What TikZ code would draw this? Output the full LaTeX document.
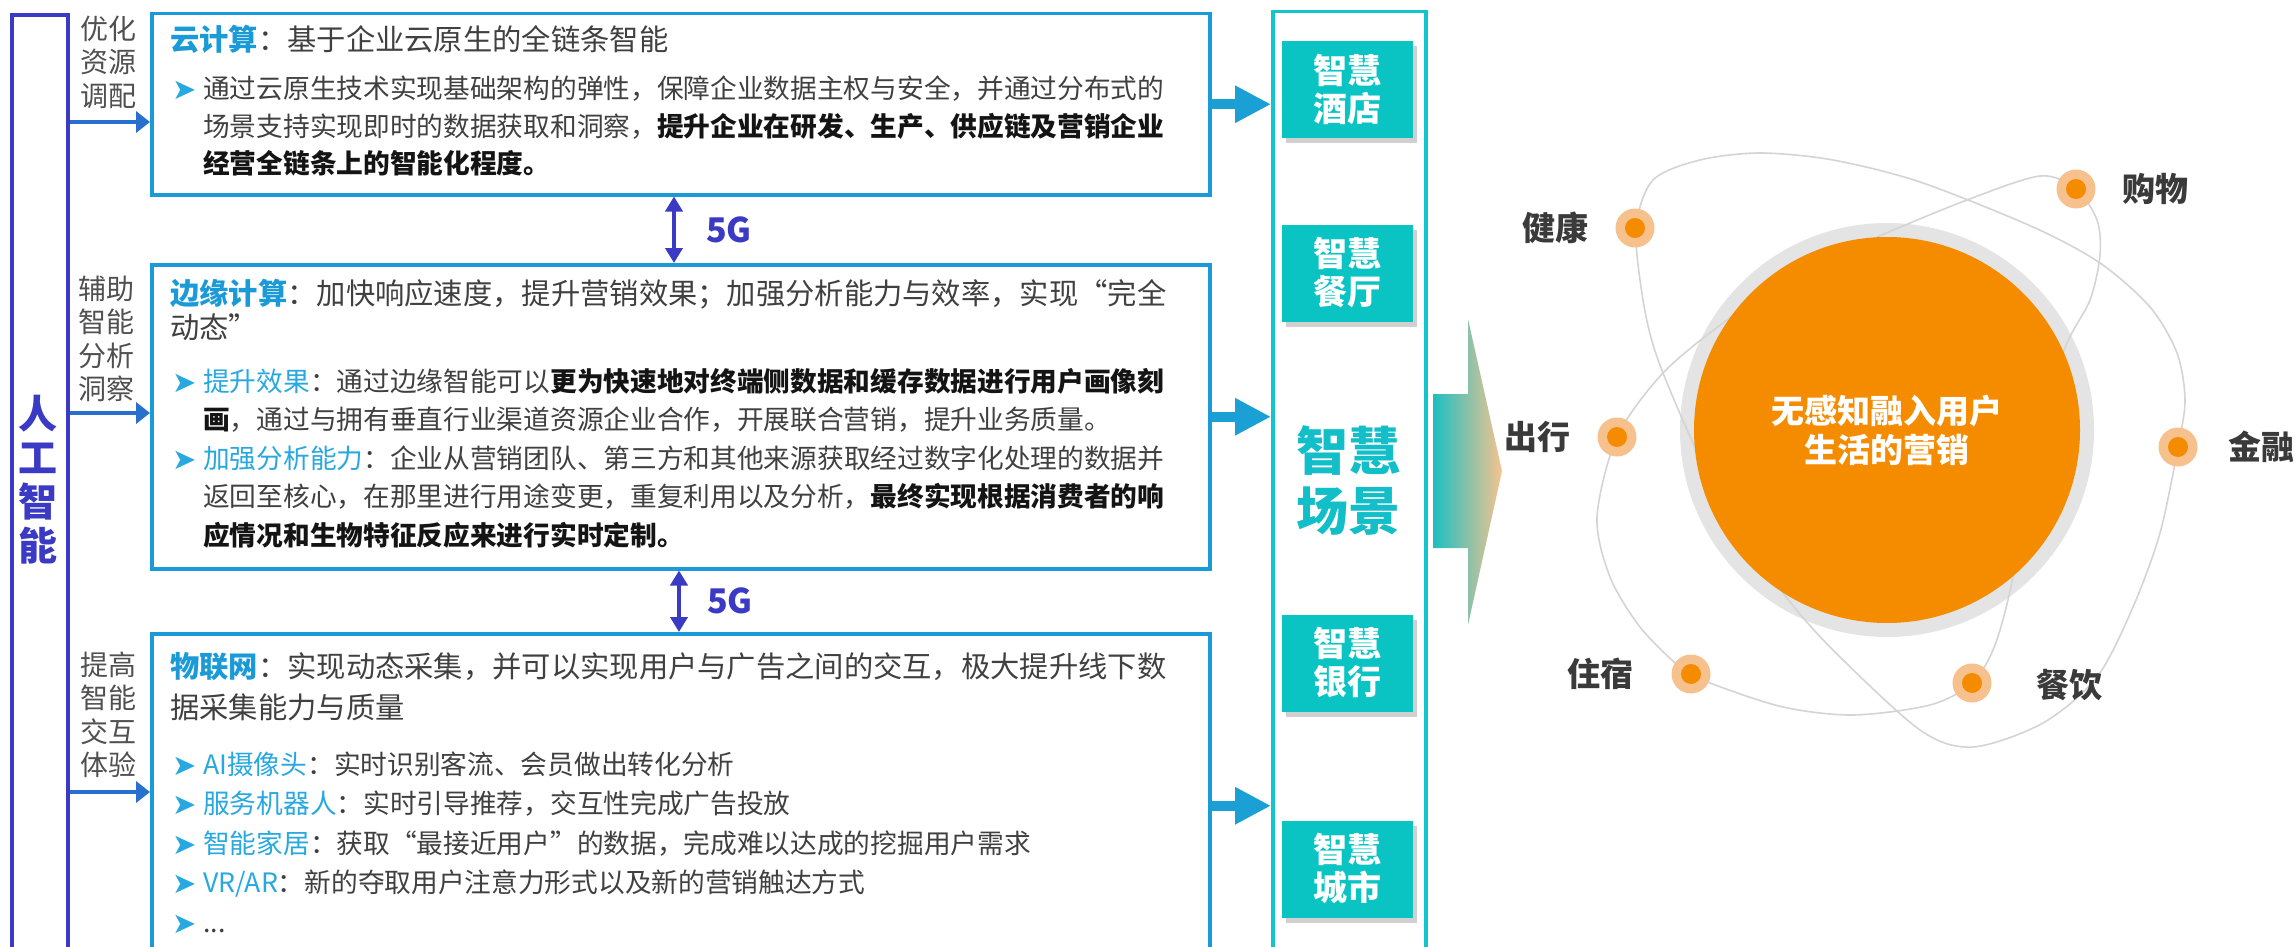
\documentclass[tikz,border=0pt]{standalone}
\usepackage{fontspec}
\setmainfont{Noto Sans CJK SC}
\newfontfamily\symfont{DejaVu Sans}
\usepackage{xcolor}
\usetikzlibrary{arrows.meta,positioning,shadows}

\definecolor{aiblue}{RGB}{58,58,196}
\definecolor{boxblue}{RGB}{26,155,215}
\definecolor{kwblue}{RGB}{26,155,215}
\definecolor{subblue}{RGB}{40,168,224}
\definecolor{bodygray}{RGB}{64,64,64}
\definecolor{boldblack}{RGB}{20,20,20}
\definecolor{sidegray}{RGB}{80,80,80}
\definecolor{scnteal}{RGB}{10,196,196}
\definecolor{frameteal}{RGB}{20,196,204}
\definecolor{titleteal}{RGB}{18,190,200}
\definecolor{scnarrow}{RGB}{27,160,214}
\definecolor{arrteal}{RGB}{29,191,192}
\definecolor{peach}{RGB}{246,195,144}
\definecolor{dotpeach}{RGB}{247,193,142}
\definecolor{coreorange}{RGB}{245,140,0}
\definecolor{ringgray}{RGB}{228,228,228}
\definecolor{orbitgray}{RGB}{212,212,212}
\definecolor{labelgray}{RGB}{58,58,58}
\colorlet{aiarrow}{aiblue!45!boxblue}

\newcommand\kwd[1]{{\bfseries\color{kwblue}#1}}
\newcommand\subt[1]{{\color{subblue}#1}}
\newcommand\hlt[1]{{\bfseries\color{boldblack}#1}}
\newcommand\bitem{\makebox[31pt][l]{\color{subblue}\symfont\fontsize{29}{29}\selectfont\raisebox{-1pt}{➤}}}
\newcommand\cont{\hspace*{31pt}}

\begin{document}
\begin{tikzpicture}[
  x=1pt, y=-1pt,
  aiFrame/.style={draw=aiblue, line width=4pt, minimum width=56pt,
    minimum height=990pt, anchor=north west, inner sep=0pt},
  aiTxt/.style={align=center, inner sep=0pt, text=aiblue,
    font=\fontsize{39}{44}\selectfont\bfseries},
  infoBox/.style={draw=boxblue, line width=3.5pt, anchor=north west,
    inner sep=0pt, minimum width=1058pt},
  sideLab/.style={align=center, inner sep=0pt, text=sidegray,
    font=\fontsize{28}{33.5}\selectfont},
  titleTxt/.style={anchor=base west, inner sep=0pt, text width=1030pt,
    align=left, text=bodygray, font=\fontsize{29.3}{37}\selectfont},
  bodyTxt/.style={anchor=base west, inner sep=0pt, text width=1030pt,
    align=left, text=bodygray, font=\fontsize{26.7}{38.7}\selectfont},
  aiArr/.style={-{Triangle[length=14pt,width=21pt]}, line width=4pt,
    color=aiarrow},
  fgArr/.style={{Triangle[length=15pt,width=17pt]}-{Triangle[length=15pt,width=17pt]},
    line width=4.5pt, color=aiblue},
  fgLab/.style={inner sep=0pt, text=aiblue,
    font=\fontsize{34}{34}\selectfont\bfseries},
  scnFrame/.style={draw=frameteal, line width=3.5pt, minimum width=153pt,
    minimum height=990pt, anchor=north west, inner sep=0pt},
  scnBox/.style={fill=scnteal, minimum width=131pt, minimum height=97pt,
    inner sep=0pt, align=center, text=white,
    font=\fontsize{34}{38}\selectfont\bfseries,
    drop shadow={shadow xshift=4pt, shadow yshift=-5pt, fill=black!60, opacity=0.3}},
  scnTitle/.style={align=center, inner sep=0pt, text=titleteal,
    font=\fontsize{52}{60}\selectfont\bfseries},
  scnArr/.style={-{Triangle[length=36pt,width=35pt]}, line width=10pt,
    color=scnarrow},
  ringC/.style={circle, fill=ringgray, minimum size=414pt, inner sep=0pt},
  coreC/.style={circle, fill=coreorange, minimum size=386pt, inner sep=0pt,
    align=center, text=white, font=\fontsize{33}{39}\selectfont\bfseries},
  orbLine/.style={draw=orbitgray, line width=1.6pt},
  dotC/.style={circle, fill=dotpeach, minimum size=39pt, inner sep=0pt,
    path picture={\fill[coreorange] (path picture bounding box.center) circle (10pt);}},
  orbLab/.style={inner sep=0pt, text=labelgray,
    font=\fontsize{33}{33}\selectfont\bfseries},
]

  %% ── Canvas ──────────────────────────────────────────────────
  \useasboundingbox (0,0) rectangle (2295,947);
  \fill[white] (0,0) rectangle (2295,947);

  %% ── AI column ───────────────────────────────────────────────
  \node[aiFrame] (ai) at (10,13) {};
  \node[aiTxt] (aitxt) at (38,480) {人\\工\\智\\能};

  %% ── Info boxes ──────────────────────────────────────────────
  \node[infoBox, minimum height=181pt] (cloud) at (150,12) {};
  \node[infoBox, minimum height=304pt] (edge) at (150,263) {};
  \node[infoBox, minimum height=344pt] (iot) at (150,632) {};

  %% ── Side labels ─────────────────────────────────────────────
  \node[sideLab] (optlab) at (108,62) {优化\\资源\\调配};
  \node[sideLab] (asslab) at (106,339) {辅助\\智能\\分析\\洞察};
  \node[sideLab] (intlab) at (108,715) {提高\\智能\\交互\\体验};

  %% ── Box texts ───────────────────────────────────────────────
  \node[titleTxt] (cloudT) at (170,51) {\kwd{云计算}：基于企业云原生的全链条智能};
  \node[bodyTxt, font=\fontsize{26.7}{37.5}\selectfont] (cloudA) at (172,99) {%
    \bitem 通过云原生技术实现基础架构的弹性，保障企业数据主权与安全，并通过分布式的\\
    \cont 场景支持实现即时的数据获取和洞察，\hlt{提升企业在研发、生产、供应链及营销企业}\\
    \cont\hlt{经营全链条上的智能化程度。}};

  \node[titleTxt] (edgeT) at (170,304) {%
    \kwd{边缘计算}：加快响应速度，提升营销效果；加强分析能力与效率，实现“完全\\[-3pt]
    动态”};
  \node[bodyTxt] (edgeA) at (172,391) {%
    \bitem\subt{提升效果}：通过边缘智能可以\hlt{更为快速地对终端侧数据和缓存数据进行用户画像刻}\\
    \cont\hlt{画}，通过与拥有垂直行业渠道资源企业合作，开展联合营销，提升业务质量。};
  \node[bodyTxt] (edgeB) at (172,468) {%
    \bitem\subt{加强分析能力}：企业从营销团队、第三方和其他来源获取经过数字化处理的数据并\\
    \cont 返回至核心，在那里进行用途变更，重复利用以及分析，\hlt{最终实现根据消费者的响}\\
    \cont\hlt{应情况和生物特征反应来进行实时定制。}};

  \node[titleTxt] (iotT) at (170,677) {%
    \kwd{物联网}：实现动态采集，并可以实现用户与广告之间的交互，极大提升线下数\\[4pt]
    据采集能力与质量};
  \node[bodyTxt, font=\fontsize{26.7}{39.5}\selectfont] (iotA) at (172,774) {%
    \bitem\subt{AI摄像头}：实时识别客流、会员做出转化分析\\
    \bitem\subt{服务机器人}：实时引导推荐，交互性完成广告投放\\
    \bitem\subt{智能家居}：获取“最接近用户”的数据，完成难以达成的挖掘用户需求\\
    \bitem\subt{VR/AR}：新的夺取用户注意力形式以及新的营销触达方式\\
    \bitem ...};

  %% ── 5G links ────────────────────────────────────────────────
  \coordinate (g1) at (674,0);
  \coordinate (g2) at (679,0);
  \draw[fgArr] (g1 |- cloud.south) -- (g1 |- edge.north)
    node[midway, right=30pt, fgLab] (fgA) {5G};
  \draw[fgArr] (g2 |- edge.south) -- (g2 |- iot.north)
    node[midway, right=26pt, fgLab] (fgB) {5G};

  %% ── AI arrows ───────────────────────────────────────────────
  \foreach \b/\y in {cloud/122, edge/413, iot/792} {
    \coordinate (lvl) at (0,\y);
    \draw[aiArr] (ai.east |- lvl) -- (\b.west |- lvl);
  }

  %% ── Scene column ────────────────────────────────────────────
  \node[scnFrame] (frame) at (1271,10) {};
  \node[scnBox] (hotel) at (1347.5,89.5) {智慧\\酒店};
  \node[scnBox] (rest) at (1347.5,273) {智慧\\餐厅};
  \node[scnBox] (bank) at (1347.5,663) {智慧\\银行};
  \node[scnBox] (city) at (1347.5,869) {智慧\\城市};
  \node[scnTitle] (scene) at (1348,480) {智慧\\场景};

  \foreach \b in {cloud, edge, iot}
    \draw[scnArr] (\b.east) -- (\b.east -| frame.west);

  %% ── Big arrow ───────────────────────────────────────────────
  \shade[left color=arrteal, right color=peach]
    (1433,394) -- (1468,394) -- (1468,319) -- (1502,471)
    -- (1468,625) -- (1468,548) -- (1433,548) -- cycle;

  %% ── Core and orbits ─────────────────────────────────────────
  \node[ringC] (ring) at (1887,430) {};
  \draw[orbLine] plot[smooth cycle] coordinates {
    (1643,300) (1636,228) (1653,180) (1700,160) (1760,153) (1833,160)
    (1920,182) (2033,227) (2100,263) (2150,307) (2177,353) (2185,400)
    (2178,447) (2160,533) (2133,607) (2097,677) (2043,723) (1973,747)
    (1920,730) (1833,650) (1783,593) (1730,515) (1693,443) (1657,357)};
  \draw[orbLine] plot[smooth cycle] coordinates {
    (2076,189) (2097,220) (2100,255) (2090,300) (2063,353) (2030,470)
    (2013,577) (1995,645) (1972,683) (1930,705) (1853,715) (1783,707)
    (1710,683) (1680,667) (1640,627) (1610,577) (1597,517) (1617,437)
    (1663,373) (1727,320) (1800,272) (1877,237) (1967,200) (2040,176)};
  \node[coreC] (core) at (1887,430) {无感知融入用户\\生活的营销};

  %% ── Dots and labels ─────────────────────────────────────────
  \node[dotC] (health) at (1635,228) {};
  \node[dotC] (shop) at (2076,189) {};
  \node[dotC] (travel) at (1617,437) {};
  \node[dotC] (fin) at (2178,447) {};
  \node[dotC] (stay) at (1691,674) {};
  \node[dotC] (dine) at (1972,683) {};

  \node[orbLab, left=27pt of health] (healthL) {健康};
  \node[orbLab, right=27pt of shop] (shopL) {购物};
  \node[orbLab, left=27pt of travel] (travelL) {出行};
  \node[orbLab, right=31pt of fin] (finL) {金融};
  \node[orbLab, left=38pt of stay] (stayL) {住宿};
  \node[orbLab, right=45pt of dine, yshift=-2pt] (dineL) {餐饮};

\end{tikzpicture}
\end{document}
